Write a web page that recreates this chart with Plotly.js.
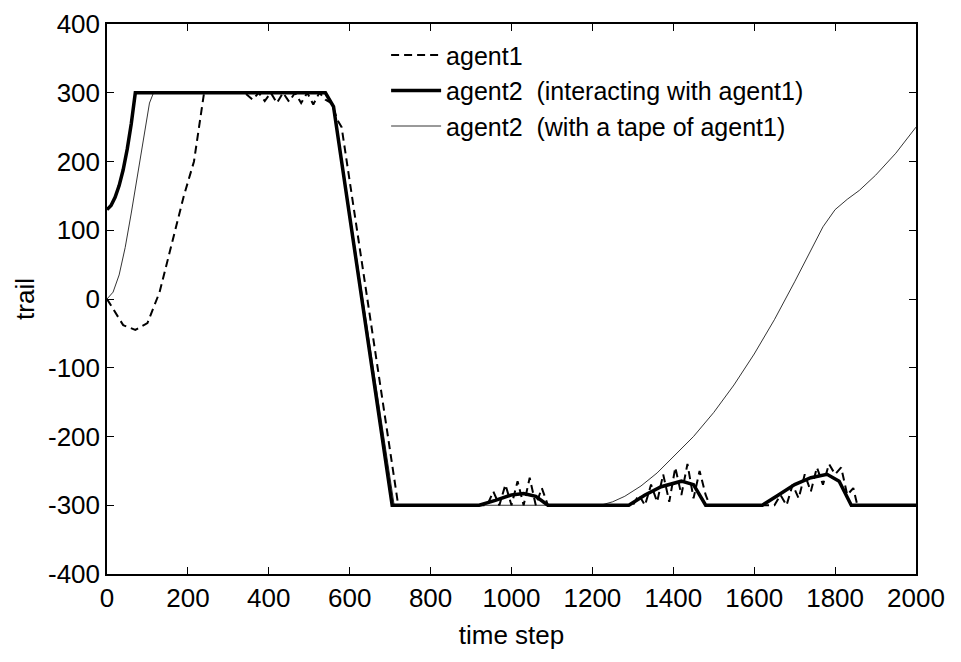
<!DOCTYPE html>
<html>
<head>
<script src="https://cdn.plot.ly/plotly-3.0.1.min.js"></script>
<style>body{margin:0;background:#fff}</style>
</head>
<body>
<div id="chart" style="width:961px;height:662px"></div>
<script>
// agent1 (dashed)
const a1x = [0, 20, 40, 70, 100, 130, 160, 190, 215, 240, 340, 360, 375, 390, 405, 420, 435, 450, 465, 480, 495, 510, 525, 540, 555, 570, 580, 720,
  940, 955, 970, 985, 1000, 1015, 1030, 1045, 1060, 1075, 1090, 1300, 1315, 1330, 1345, 1360, 1375, 1390, 1405, 1420, 1435, 1450, 1465, 1480, 1490,
  1650, 1665, 1680, 1695, 1710, 1725, 1740, 1755, 1770, 1785, 1800, 1815, 1830, 1845, 1855, 2000];
const a1y = [0, -20, -38, -45, -35, 10, 80, 150, 200, 300, 300, 290, 300, 288, 300, 285, 300, 287, 300, 285, 300, 283, 300, 290, 285, 260, 250, -300,
  -300, -280, -300, -270, -300, -265, -300, -260, -300, -275, -300, -300, -285, -300, -270, -295, -255, -295, -245, -285, -240, -290, -250, -285, -300,
  -300, -285, -300, -270, -290, -255, -280, -245, -270, -240, -255, -245, -285, -275, -300, -300];

// agent2 interacting (thick)
const a2x = [0, 10, 20, 30, 40, 50, 60, 70, 540, 560, 705, 920, 960, 1000, 1030, 1060, 1090, 1290, 1330, 1370, 1420, 1450, 1480, 1620, 1660, 1700, 1740, 1780, 1810, 1840, 2000];
const a2y = [130, 136, 148, 165, 188, 218, 255, 300, 300, 280, -300, -300, -293, -285, -283, -287, -300, -300, -285, -273, -265, -270, -300, -300, -285, -270, -260, -255, -265, -300, -300];

// agent2 with tape (thin)
const a3x = [0, 15, 30, 45, 60, 75, 90, 105, 115, 540, 560, 710, 1220, 1250, 1280, 1320, 1360, 1400, 1450, 1500, 1550, 1600, 1650, 1700, 1740, 1770, 1800, 1830, 1860, 1900, 1950, 2000];
const a3y = [0, 10, 35, 75, 125, 180, 235, 285, 300, 300, 280, -300, -300, -295, -287, -272, -253, -230, -200, -165, -125, -80, -30, 25, 70, 105, 130, 145, 158, 180, 212, 250];

const yTicks = [-400, -300, -200, -100, 0, 100, 200, 300, 400];
const yTickText = ['-400', '-300', '-200', '-100', '0', '100', '200', '300', '400'];

const font = {family: 'Liberation Sans, Arial, sans-serif', size: 26, color: '#000'};
const legendFont = {family: 'Liberation Sans, Arial, sans-serif', size: 25, color: '#000'};

const traces = [
  {x: a1x, y: a1y, name: 'agent1', mode: 'lines', line: {color: '#000', width: 2, dash: '8px,5px'}},
  {x: a2x, y: a2y, name: 'agent2  (interacting with agent1)', mode: 'lines', line: {color: '#000', width: 3.5}},
  {x: a3x, y: a3y, name: 'agent2  (with a tape of agent1)', mode: 'lines', line: {color: '#000', width: 0.8}}
];

const axis = {
  showgrid: false, zeroline: false, showline: true, mirror: 'ticks',
  linecolor: '#000', linewidth: 1.5, ticks: 'inside', ticklen: 7, tickcolor: '#000',
  tickfont: font
};

const layout = {
  width: 961, height: 662,
  margin: {l: 107, r: 45, t: 24, b: 88},
  paper_bgcolor: '#fff', plot_bgcolor: '#fff',
  font: font,
  showlegend: true,
  legend: {x: 0.345, y: 0.985, xanchor: 'left', yanchor: 'top', bgcolor: 'rgba(0,0,0,0)', itemwidth: 50, tracegroupgap: 0, font: legendFont},
  xaxis: Object.assign({}, axis, {range: [0, 2000], dtick: 200, title: {text: 'time step', font: font, standoff: 14}}),
  yaxis: Object.assign({}, axis, {range: [-400, 400], tickvals: yTicks, ticktext: yTickText, title: {text: 'trail', font: font, standoff: 6}})
};

Plotly.newPlot('chart', traces, layout, {displayModeBar: false});
</script>
</body>
</html>
